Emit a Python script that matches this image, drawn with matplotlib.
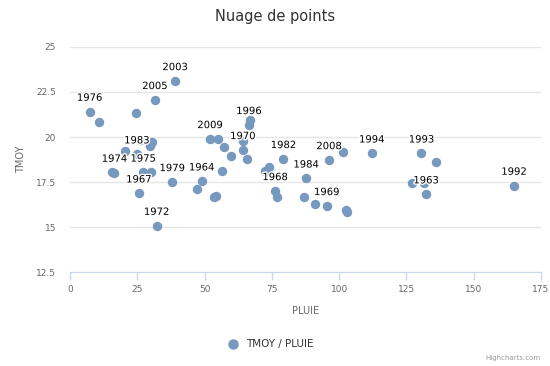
import matplotlib
matplotlib.use('Agg')
import matplotlib.pyplot as plt
import matplotlib.patheffects as pe

# PLUIE (x), TMOY (y), annee affichee (vide = pas d'etiquette)
pluie = [7.3, 10.8, 24.6, 31.5, 39.0, 26.0, 30.4, 29.7, 20.4, 24.8,
         15.5, 16.5, 27.2, 30.0, 38.0, 48.9, 47.1, 25.6, 32.2, 52.0,
         55.1, 57.3, 59.8, 56.4, 53.5, 54.3, 66.9, 66.5, 64.4, 64.2,
         65.6, 72.5, 74.1, 79.3, 76.2, 76.8, 87.7, 87.1, 91.0, 95.4,
         102.6, 102.8, 96.2, 101.3, 112.1, 130.6, 136.0, 127.0, 131.7, 132.3,
         165.0]
tmoy = [21.41, 20.82, 21.35, 22.06, 23.11, 19.83, 19.74, 19.52, 19.24, 19.04,
        18.07, 18.02, 18.03, 18.07, 17.5, 17.54, 17.11, 16.87, 15.07, 19.89,
        19.89, 19.43, 18.96, 18.11, 16.68, 16.72, 20.94, 20.67, 19.78, 19.28,
        18.78, 18.11, 18.35, 18.78, 17.0, 16.65, 17.7, 16.65, 16.26, 16.17,
        15.94, 15.82, 18.72, 19.18, 19.09, 19.09, 18.59, 17.43, 17.43, 16.82,
        17.3]
annees = ['1976', '', '', '2005', '2003', '', '', '', '', '1983',
          '', '1974', '1975', '', '1979', '1964', '', '1967', '1972', '2009',
          '', '', '', '', '', '', '', '1996', '', '1970',
          '', '', '', '1982', '1968', '', '1984', '', '', '1969',
          '', '', '2008', '', '1994', '1993', '', '', '', '1963',
          '1992']

x_ticks = [0, 25, 50, 75, 100, 125, 150, 175]
y_ticks = [12.5, 15, 17.5, 20, 22.5, 25]

couleur = '#7798BF'

fig = plt.figure(figsize=(5.5, 3.66), dpi=100)
ax = fig.add_axes([0.1273, 0.2568, 0.8563, 0.6148])

ax.scatter(pluie, tmoy, s=46, color=couleur, zorder=3, linewidths=0)
for x, y, a in zip(pluie, tmoy, annees):
    if a:
        ax.annotate(a, (x, y), xytext=(0, 10), textcoords='offset points',
                    ha='center', va='center', fontsize=7.2, color='black',
                    zorder=4,
                    path_effects=[pe.withStroke(linewidth=2, foreground='white')])

ax.set_xlim(0, 175)
ax.set_ylim(12.5, 25)
ax.set_xticks(x_ticks)
ax.set_xticklabels([str(t) for t in x_ticks])
ax.set_yticks(y_ticks)
ax.set_yticklabels(['12.5', '15', '17.5', '20', '22.5', '25'])

ax.grid(axis='y', color='#e6e6e6', linewidth=1)
ax.set_axisbelow(True)
for s in ['top', 'right', 'left']:
    ax.spines[s].set_visible(False)
ax.spines['bottom'].set_color('#ccd6eb')
ax.spines['bottom'].set_zorder(1)
ax.tick_params(axis='x', colors='#ccd6eb', length=6, width=1, labelcolor='#666666',
               labelsize=6.5, pad=3)
ax.tick_params(axis='y', length=0, labelcolor='#666666', labelsize=6.5, pad=10)

ax.set_xlabel('PLUIE', fontsize=7, color='#666666', labelpad=9)
ax.set_ylabel('TMOY', fontsize=7, color='#666666', labelpad=7)

fig.text(0.5, 0.955, 'Nuage de points', ha='center', va='center',
         fontsize=10.5, color='#333333')

# legende
fig.add_artist(plt.Line2D([233 / 550], [1 - 344 / 366], marker='o', markersize=6.5,
                          color=couleur, linestyle='none'))
fig.text(246 / 550, 1 - 344 / 366, 'TMOY / PLUIE', ha='left', va='center',
         fontsize=7.5, color='#333333')

fig.text(541 / 550, 1 - 358 / 366, 'Highcharts.com', ha='right', va='center',
         fontsize=5, color='#999999')

fig.savefig('out.png', dpi=100)
